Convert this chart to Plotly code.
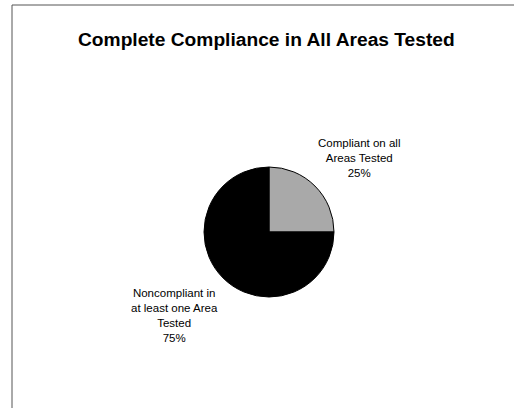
import plotly.graph_objects as go

# Data
categories = ["Compliant on all<br>Areas Tested", "Noncompliant in<br>at least one Area<br>Tested"]
values = [25, 75]
colors = ["#a9a9a9", "#000000"]
title_text = "Complete Compliance in All Areas Tested"

W, H = 514, 408

def px_x(x):
    return x / W

def px_y(y):
    return 1 - y / H

total = sum(values)
label_pos = [(359, 158), (174, 315)]

fig = go.Figure()
fig.add_trace(go.Pie(
    labels=categories,
    values=values,
    sort=False,
    direction="clockwise",
    rotation=0,
    marker=dict(colors=colors, line=dict(color="#000000", width=1)),
    textinfo="none",
    hoverinfo="label+percent",
    showlegend=False,
    domain=dict(x=[px_x(204), px_x(334)], y=[px_y(297), px_y(167)]),
))

annotations = [dict(
    text=f"<b>{title_text}</b>",
    x=px_x(266), y=px_y(40), xref="paper", yref="paper",
    xanchor="center", yanchor="middle", showarrow=False,
    font=dict(family="Arial, Liberation Sans, sans-serif", size=19.2, color="#000000"),
)]
for cat, val, (lx, ly) in zip(categories, values, label_pos):
    pct = round(100 * val / total)
    annotations.append(dict(
        text=f"{cat}<br>{pct}%",
        x=px_x(lx), y=px_y(ly), xref="paper", yref="paper",
        xanchor="center", yanchor="middle", align="center", showarrow=False,
        font=dict(family="Arial, Liberation Sans, sans-serif", size=11.5, color="#000000"),
    ))

border = dict(color="#555555", width=1)
fig.update_layout(
    width=W, height=H,
    margin=dict(l=0, r=0, t=0, b=0),
    paper_bgcolor="#ffffff",
    plot_bgcolor="#ffffff",
    annotations=annotations,
    shapes=[
        dict(type="line", xref="paper", yref="paper",
             x0=px_x(12), x1=1.0, y0=px_y(5), y1=px_y(5), line=border),
        dict(type="line", xref="paper", yref="paper",
             x0=px_x(12), x1=px_x(12), y0=0.0, y1=px_y(5), line=border),
    ],
)

fig.write_html(
    "out.html",
    config={"displayModeBar": False},
    post_script=("document.body.style.margin='0px';"
                 "document.body.style.overflow='hidden';"
                 "document.documentElement.style.overflow='hidden';"),
)
